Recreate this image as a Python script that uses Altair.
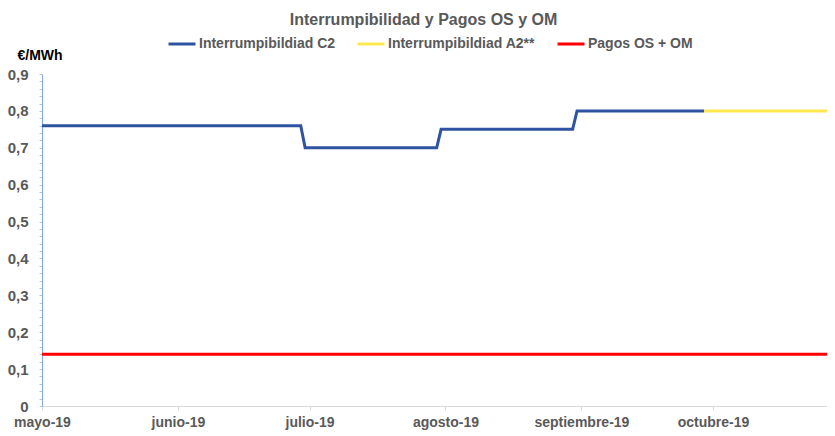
import json
import altair as alt
import pandas as pd

# ---- data ----
series_names = ["Interrumpibildiad C2", "Interrumpibildiad A2**", "Pagos OS + OM"]
series_colors = ["#2E54A1", "#FFE84F", "#FF0000"]

c2_dates = ["2019-05-01", "2019-06-29", "2019-06-30", "2019-07-30", "2019-07-31",
            "2019-08-30", "2019-08-31", "2019-09-29"]
c2_values = [0.76, 0.76, 0.70, 0.70, 0.75, 0.75, 0.80, 0.80]

a2_dates = ["2019-09-29", "2019-10-27"]
a2_values = [0.80, 0.80]

os_dates = ["2019-05-01", "2019-10-27"]
os_values = [0.14, 0.14]

month_ticks = ["2019-05-01", "2019-06-01", "2019-07-01", "2019-08-01", "2019-09-01", "2019-10-01"]
month_labels = ["mayo-19", "junio-19", "julio-19", "agosto-19", "septiembre-19", "octubre-19"]
x_domain = ["2019-05-01", "2019-10-27"]

y_domain = [0, 0.9]
y_minor_step = 0.02

# ---- build table ----
rows = []
for name, dates, vals in [(series_names[0], c2_dates, c2_values),
                          (series_names[1], a2_dates, a2_values),
                          (series_names[2], os_dates, os_values)]:
    for d, v in zip(dates, vals):
        rows.append({"fecha": d, "valor": v, "serie": name})
df = pd.DataFrame(rows)


def ms(d):
    return int(pd.Timestamp(d, tz="UTC").timestamp() * 1000)


x_tick_ms = [ms(d) for d in month_ticks]
x_label_expr = f"{json.dumps(month_labels)}[utcmonth(datum.value) - 4]"

n_minor = int(round(y_domain[1] / y_minor_step))
y_ticks = [round(i * y_minor_step, 2) for i in range(n_minor + 1)]
y_label_expr = ("abs(datum.value * 10 - round(datum.value * 10)) < 0.001 ? "
                "(datum.value == 0 ? '0' : replace(format(datum.value, '.1f'), '.', ',')) : ''")

FONT = "Liberation Sans, Arial, sans-serif"
GREY = "#595959"

chart = alt.Chart(df).mark_line(strokeWidth=3, interpolate="linear").encode(
    x=alt.X("fecha:T",
            scale=alt.Scale(type="utc", domain=[ms(x_domain[0]), ms(x_domain[1])], nice=False),
            axis=alt.Axis(values=x_tick_ms, labelExpr=x_label_expr, title=None,
                          grid=False, domainColor="#D9D9D9", tickColor="#D9D9D9",
                          tickSize=4, labelPadding=5, labelFont=FONT, labelFontSize=14,
                          labelFontWeight="bold", labelColor=GREY, labelOverlap=False,
                          labelFlush=False)),
    y=alt.Y("valor:Q",
            scale=alt.Scale(domain=y_domain, nice=False, zero=True),
            axis=alt.Axis(values=y_ticks, labelExpr=y_label_expr, grid=False,
                          title="€/MWh", titleAngle=0, titleAlign="left",
                          titleBaseline="alphabetic", titleX=-25, titleY=-15,
                          titleFont=FONT, titleFontSize=14, titleFontWeight="bold",
                          titleColor="#000000",
                          domainColor="#7FA7DA", tickColor="#A8C6EC", tickSize=3,
                          labelPadding=11, labelFont=FONT, labelFontSize=15,
                          labelFontWeight="bold", labelColor=GREY, labelOverlap=False)),
    color=alt.Color("serie:N",
                    scale=alt.Scale(domain=series_names, range=series_colors),
                    legend=alt.Legend(orient="none", direction="horizontal", title=None,
                                      legendX=125, legendY=-45, symbolType="stroke",
                                      symbolSize=729, symbolStrokeWidth=3,
                                      labelOffset=2, columnPadding=15, padding=0,
                                      labelFont=FONT, labelFontSize=14,
                                      labelFontWeight="bold", labelColor=GREY,
                                      labelLimit=400)),
    detail="serie:N",
).properties(
    width=785,
    height=332,
    title=alt.Title("Interrumpibilidad y Pagos OS y OM", font=FONT, fontSize=16,
                    fontWeight="bold", color=GREY, anchor="middle", dx=-11, dy=3),
    autosize=alt.AutoSizeParams(type="none"),
    padding={"left": 34, "top": 66, "right": 0, "bottom": 28},
).configure_view(stroke=None)

chart.save("out.html", embed_options={"renderer": "svg", "actions": False})
